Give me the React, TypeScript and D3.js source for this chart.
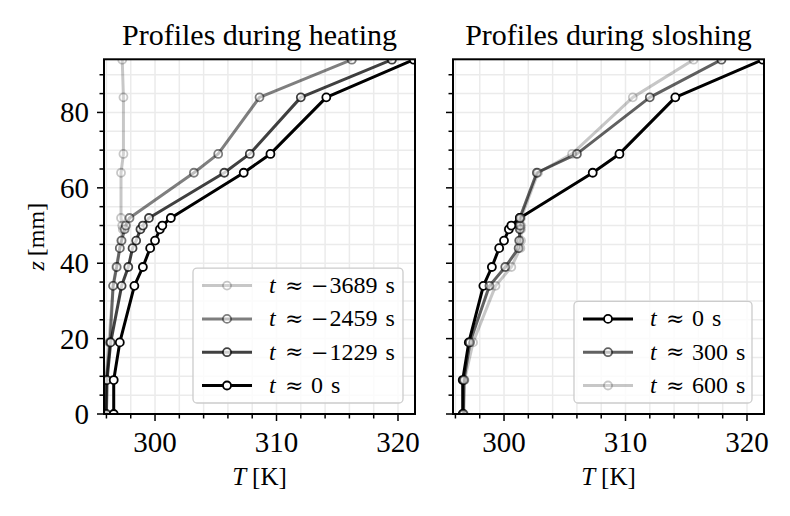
import React from 'react';
import * as d3 from 'd3';

// sensor heights (mm)
const zMm = [0, 9, 19, 34, 39, 44, 46, 49, 50, 52, 64, 69, 84, 94];

// heating profiles, T [K] at each height
const heatLabels = ['−3689', '−2459', '−1229', '0'];
const heatM3689 = [295.85, 295.95, 296.2, 296.55, 296.8, 297.1, 297.2, 297.35, 297.3, 297.2, 297.2, 297.4, 297.4, 297.3];
const heatM2459 = [295.9, 296.0, 296.3, 296.55, 296.85, 297.1, 297.25, 297.5, 297.6, 297.9, 303.2, 305.2, 308.6, 316.2];
const heatM1229 = [296.0, 296.05, 296.35, 297.25, 297.8, 298.15, 298.45, 298.8, 299.0, 299.5, 305.7, 307.8, 312.0, 319.5];
const heat0 = [296.6, 296.6, 297.1, 298.3, 299.0, 299.6, 300.0, 300.4, 300.6, 301.3, 307.3, 309.5, 314.1, 321.3];

// sloshing profiles
const sloshLabels = ['0', '300', '600'];
const slosh0 = heat0;
const slosh300 = [296.65, 296.7, 297.2, 298.8, 300.1, 301.2, 301.25, 301.3, 301.3, 301.3, 302.7, 306.0, 312.0, 317.9];
const slosh600 = [296.7, 296.75, 297.45, 299.3, 300.6, 301.35, 301.4, 301.4, 301.4, 301.4, 302.8, 305.6, 310.6, 315.6];

const xTicks = [300, 310, 320];
const yTicks = [0, 20, 40, 60, 80];

const heatAlpha = [0.22, 0.5, 0.75, 1];
const sloshAlpha = [1, 0.62, 0.22];

const FONT = '"Liberation Serif", "DejaVu Serif", serif';
const MATH = '"DejaVu Serif", serif';
const T_DOMAIN: [number, number] = [295.8, 321.4];
const Z_DOMAIN: [number, number] = [0, 94.1];

interface Series {
  label: string;
  values: number[];
  alpha: number;
}

interface PanelProps {
  id: string;
  left: number;
  title: string;
  series: Series[];
  showYLabels: boolean;
  legendW: number;
}

const top = 59.3;
const bottom = 414;
const width = 311;

// legend number: CM minus is wide, so give it a bit of room
const LegendNumber: React.FC<{ label: string }> = ({ label }) => {
  const neg = label.startsWith('−');
  const digits = neg ? label.slice(1) : label;
  return (
    <>
      {neg && <tspan fontFamily={MATH} fontSize={21}>−</tspan>}
      <tspan dx={neg ? 1 : 0}>{digits}</tspan>
      <tspan dx={8}>s</tspan>
    </>
  );
};

const Panel: React.FC<PanelProps> = ({ id, left, title, series, showYLabels, legendW }) => {
  const x = d3.scaleLinear().domain(T_DOMAIN).range([left, left + width]);
  const y = d3.scaleLinear().domain(Z_DOMAIN).range([bottom, top]);

  const minorX = d3.range(296, 322, 2);
  const minorY = d3.range(0, 95, 5);

  const line = d3.line<[number, number]>()
    .x(d => x(d[0]))
    .y(d => y(d[1]));

  const rowH = 33.3;
  const legendH = 17.5 * 2 + rowH * (series.length - 1);
  const lx = left + width - 12 - legendW;
  const ly = bottom - 11 - legendH;

  return (
    <g>
      <defs>
        <clipPath id={id}>
          <rect x={left} y={top} width={width} height={bottom - top} />
        </clipPath>
      </defs>
      {/* grid */}
      {minorX.map(t => (
        <line key={'gx' + t} x1={x(t)} x2={x(t)} y1={top} y2={bottom} stroke="#ebebeb" strokeWidth={1.5} />
      ))}
      {minorY.map(t => (
        <line key={'gy' + t} x1={left} x2={left + width} y1={y(t)} y2={y(t)} stroke="#ebebeb" strokeWidth={1.5} />
      ))}

      {/* series */}
      <g clipPath={`url(#${id})`}>
        {series.map((s, i) => {
          const pts = s.values.map((v, j) => [v, zMm[j]] as [number, number]);
          return (
            <g key={i}>
              <path d={line(pts) ?? ''} fill="none" stroke="#000" strokeOpacity={s.alpha}
                strokeWidth={3} strokeLinejoin="round" strokeLinecap="butt" />
              {pts.map((p, j) => (
                <circle key={j} cx={x(p[0])} cy={y(p[1])} r={4} fill="#fff" fillOpacity={s.alpha}
                  stroke="#000" strokeOpacity={s.alpha} strokeWidth={1.8} />
              ))}
            </g>
          );
        })}
      </g>

      {/* frame */}
      <rect x={left} y={top} width={width} height={bottom - top} fill="none" stroke="#000" strokeWidth={2} />

      {/* x ticks */}
      {minorX.map(t => (
        <line key={'tx' + t} x1={x(t)} x2={x(t)} y1={bottom} y2={bottom + (t % 10 === 0 ? 7 : 4.5)} stroke="#000" strokeWidth={1.5} />
      ))}
      {xTicks.map(t => (
        <text key={'lx' + t} x={x(t)} y={452} textAnchor="middle" fontSize={29} fontFamily={FONT}>{t}</text>
      ))}
      <text x={left + width / 2} y={485} textAnchor="middle" fontSize={25} fontFamily={FONT}>
        <tspan fontStyle="italic">T</tspan><tspan dx={6}>[K]</tspan>
      </text>

      {/* y ticks */}
      {minorY.map(t => (
        <line key={'ty' + t} x1={left} x2={left - (t % 20 === 0 ? 7 : 4.5)} y1={y(t)} y2={y(t)} stroke="#000" strokeWidth={1.5} />
      ))}
      {showYLabels && yTicks.map(t => (
        <text key={'ly' + t} x={left - 15} y={y(t) + 10} textAnchor="end" fontSize={29} fontFamily={FONT}>{t}</text>
      ))}
      {showYLabels && (
        <text transform={`translate(44,${(top + bottom) / 2}) rotate(-90)`} textAnchor="middle" fontSize={24} fontFamily={FONT}>
          <tspan fontStyle="italic">z</tspan><tspan dx={5}>[mm]</tspan>
        </text>
      )}

      {/* title */}
      <text x={left + width / 2} y={45} textAnchor="middle" fontSize={30} fontFamily={FONT}>{title}</text>

      {/* legend */}
      <rect x={lx} y={ly} width={legendW} height={legendH} rx={4} fill="#fff" fillOpacity={0.8} stroke="#cccccc" strokeWidth={1.3} />
      {series.map((s, i) => {
        const cy = ly + 17.5 + i * rowH;
        return (
          <g key={'lg' + i}>
            <line x1={lx + 9} x2={lx + 59} y1={cy} y2={cy} stroke="#000" strokeOpacity={s.alpha} strokeWidth={3} />
            <circle cx={lx + 34} cy={cy} r={4} fill="#fff" fillOpacity={s.alpha} stroke="#000" strokeOpacity={s.alpha} strokeWidth={1.8} />
            <text x={lx + 76} y={cy + 7.5} fontSize={24} fontFamily={FONT} fontStyle="italic">t</text>
            <text x={lx + 92} y={cy + 7} fontSize={22} fontFamily={MATH}>≈</text>
            <text x={lx + 118} y={cy + 7.5} fontSize={24} fontFamily={FONT}>
              <LegendNumber label={s.label} />
            </text>
          </g>
        );
      })}
    </g>
  );
};

const App: React.FC = () => {
  const heating: Series[] = [heatM3689, heatM2459, heatM1229, heat0].map((v, i) => ({
    label: heatLabels[i], values: v, alpha: heatAlpha[i],
  }));
  const sloshing: Series[] = [slosh0, slosh300, slosh600].map((v, i) => ({
    label: sloshLabels[i], values: v, alpha: sloshAlpha[i],
  }));

  return (
    <svg width={790} height={516} style={{ position: 'absolute', left: 0, top: 0, background: '#fff' }}>
      <Panel id="clipHeat" left={104} title="Profiles during heating" series={heating} showYLabels legendW={210} />
      <Panel id="clipSlosh" left={453} title="Profiles during sloshing" series={sloshing} showYLabels={false} legendW={178} />
    </svg>
  );
};

export default App;
